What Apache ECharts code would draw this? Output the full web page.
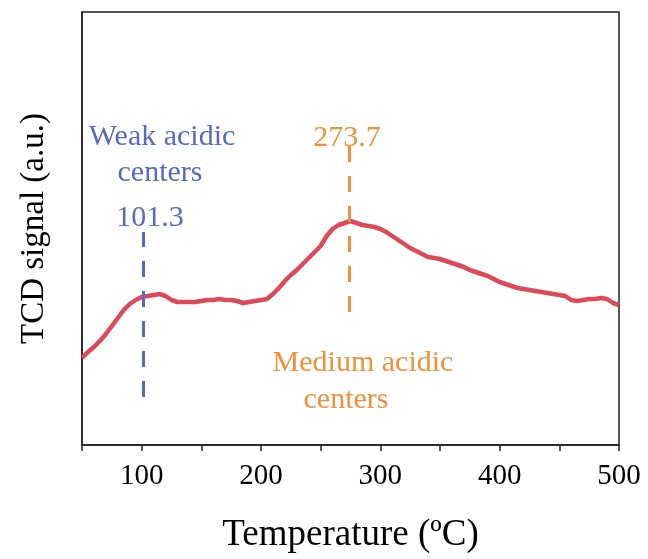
<!DOCTYPE html>
<html>
<head>
<meta charset="utf-8">
<script src="https://cdn.jsdelivr.net/npm/echarts@6/dist/echarts.min.js"></script>
<style>html,body{margin:0;padding:0;background:#fff}#c{width:648px;height:559px}</style>
</head>
<body>
<div id="c"></div>
<script>
// Temperature (°C)
const temperature = [50,55,60,65,70,75,80,85,90,95,100,105,110,115,120,125,130,135,140,145,150,155,160,165,170,175,180,185,190,195,200,205,210,215,220,225,230,235,240,245,250,255,260,265,270,275,280,285,290,295,300,305,310,315,320,325,330,335,340,345,350,355,360,365,370,375,380,385,390,395,400,405,410,415,420,425,430,435,440,445,450,455,460,465,470,475,480,485,490,495,500];
// TCD signal (a.u.)
const signal = [87,93,98,104,111,119,127,135,141,145,148,149,150,151,149,145,143,143,143,143,144,145,145,146,145,145,144,142,143,144,145,146,151,157,164,170,175,181,187,193,199,209,216,220,222,224,222,220,219,218,216,213,209,205,201,197,194,191,188,187,186,184,182,180,178,175,173,171,169,166,163,161,159,157,156,155,154,153,152,151,150,149,145,144,145,146,146,147,146,142,140];
const xTicks = [100,200,300,400,500];
const weakPeak = 101.3;
const mediumPeak = 273.7;
const weakLine = [48, 213];
const mediumLine = [133, 300];

const data = temperature.map((t,i)=>[t, signal[i]]);
const serif = '"Liberation Serif","Times New Roman",serif';
const blue = '#5b6ab8', orange = '#f0913a';
const chart = echarts.init(document.getElementById('c'));
chart.setOption({
  animation:false,
  grid:{left:82,right:29,top:12,bottom:114,show:true,borderColor:'#222',borderWidth:1.5,backgroundColor:'transparent'},
  xAxis:{type:'value',min:50,max:500,interval:50,
    name:'Temperature (ºC)',
    nameLocation:'middle',nameGap:72,
    nameTextStyle:{fontFamily:serif,fontSize:37,color:'#000'},
    axisLine:{lineStyle:{color:'#222',width:1.5}},
    axisTick:{show:true,inside:false,length:6,lineStyle:{color:'#222',width:1.5}},
    axisLabel:{fontFamily:serif,fontSize:29,color:'#000',margin:17,
      formatter:v=> xTicks.includes(v)? String(v):''},
    splitLine:{show:false}},
  yAxis:{type:'value',min:0,max:433,
    name:'TCD signal (a.u.)',nameLocation:'middle',nameGap:31,
    nameTextStyle:{fontFamily:serif,fontSize:33,color:'#000'},
    axisLine:{show:true,lineStyle:{color:'#222',width:1.5}},
    axisTick:{show:false},axisLabel:{show:false},splitLine:{show:false}},
  series:[{type:'line',data:data,showSymbol:false,symbol:'none',
    lineStyle:{color:'#dc4a5a',width:4.5},
    markLine:{silent:true,symbol:'none',label:{show:false},
      data:[
        [{coord:[weakPeak,weakLine[0]],lineStyle:{color:blue,width:3,type:[16,14]}},{coord:[weakPeak,weakLine[1]]}],
        [{coord:[mediumPeak,mediumLine[0]],lineStyle:{color:orange,width:3,type:[16,14]}},{coord:[mediumPeak,mediumLine[1]]}]
      ]}
  }],
  graphic:[
    {type:'text',style:{text:'Weak acidic',x:162,y:122,fontFamily:serif,fontSize:30,fill:blue,align:'center',verticalAlign:'alphabetic'}},
    {type:'text',style:{text:'centers',x:160,y:158,fontFamily:serif,fontSize:30,fill:blue,align:'center',verticalAlign:'alphabetic'}},
    {type:'text',style:{text:String(weakPeak),x:150,y:203,fontFamily:serif,fontSize:30,fill:blue,align:'center',verticalAlign:'alphabetic'}},
    {type:'text',style:{text:String(mediumPeak),x:347,y:123,fontFamily:serif,fontSize:30,fill:orange,align:'center',verticalAlign:'alphabetic'}},
    {type:'text',style:{text:'Medium acidic',x:363,y:348,fontFamily:serif,fontSize:30,fill:orange,align:'center',verticalAlign:'alphabetic'}},
    {type:'text',style:{text:'centers',x:346,y:385,fontFamily:serif,fontSize:30,fill:orange,align:'center',verticalAlign:'alphabetic'}}
  ]
});
</script>
</body>
</html>
